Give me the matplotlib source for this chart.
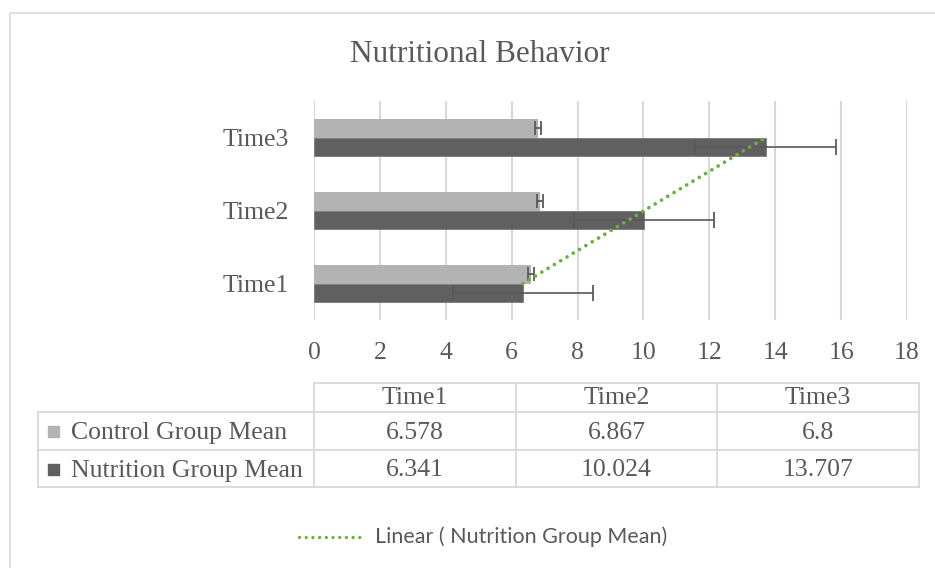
import numpy as np
import matplotlib
matplotlib.use("Agg")
import matplotlib.pyplot as plt
from matplotlib.lines import Line2D
from matplotlib.patches import Rectangle

# ---- data ----
categories = ["Time1", "Time2", "Time3"]
control_mean = [6.578, 6.867, 6.8]
nutrition_mean = [6.341, 10.024, 13.707]
control_err = [0.09, 0.09, 0.09]
nutrition_err = [2.13, 2.13, 2.13]
series_names = ["Control Group Mean", "Nutrition Group Mean"]
x_ticks = [0, 2, 4, 6, 8, 10, 12, 14, 16, 18]
title = "Nutritional Behavior"
trend_label = "Linear ( Nutrition Group Mean)"

# ---- style ----
W, H = 935, 568
TXT = "#595959"
GRID = "#D9D9D9"
C_CTRL = "#B3B3B3"
C_NUT = "#606060"
C_ERR = "#595959"
C_TREND = "#70AD47"
SERIF = ["Liberation Serif", "DejaVu Serif"]
FS = 18.5

fig = plt.figure(figsize=(W / 100, H / 100), dpi=100)
fig.patch.set_facecolor("white")

# plot area in pixels
px_l, px_r, px_t, px_b = 314, 907, 101, 320
ax = fig.add_axes([px_l / W, 1 - px_b / H, (px_r - px_l) / W, (px_b - px_t) / H])

y = np.arange(1, len(categories) + 1)
bh = 0.253
ax.barh(y + bh / 2, control_mean, height=bh, color=C_CTRL, zorder=2)
ax.barh(y - bh / 2, nutrition_mean, height=bh, color=C_NUT, edgecolor="#7a7a7a",
        linewidth=0.6, zorder=2)
ax.errorbar(control_mean, y + bh / 2, xerr=control_err, fmt="none", ecolor=C_ERR,
            elinewidth=1.3, capsize=5, capthick=1.3, zorder=3)
ax.errorbar(nutrition_mean, y - bh / 2, xerr=nutrition_err, fmt="none", ecolor=C_ERR,
            elinewidth=1.2, capsize=5.5, capthick=1.3, zorder=3)

# linear trendline through category centres
coef = np.polyfit(y, nutrition_mean, 1)
yy = np.array([y[0], y[-1]], dtype=float)
ax.plot(np.polyval(coef, yy), yy, color=C_TREND, lw=2.7,
        linestyle=(0, (0.01, 1.95)), dash_capstyle="round", zorder=4)

ax.set_xlim(x_ticks[0], x_ticks[-1])
ax.set_ylim(0.5, len(categories) + 0.5)
ax.set_xticks(x_ticks)
ax.set_xticklabels([str(t) for t in x_ticks], fontfamily=SERIF, fontsize=FS, color=TXT)
ax.set_yticks(y)
ax.set_yticklabels(categories, fontfamily=SERIF, fontsize=FS, color=TXT)
ax.tick_params(axis="x", length=0, pad=16)
ax.tick_params(axis="y", length=0, pad=18)
ax.grid(axis="x", color=GRID, linewidth=1.5, zorder=0)
ax.set_axisbelow(True)
for s in ax.spines.values():
    s.set_visible(False)

# overlay in pixel coordinates for frame, title, table and legend
ov = fig.add_axes([0, 0, 1, 1], zorder=-1)
ov.set_xlim(0, W)
ov.set_ylim(H, 0)
ov.axis("off")
ov.add_patch(Rectangle((10, 13), W + 20, H + 20, fill=False, edgecolor=GRID, lw=1.2))

fig.text(480 / W, 1 - 55 / H, title, ha="center", va="center",
         fontfamily=SERIF, fontsize=22.5, color=TXT)

# data table
col_x = [38, 314, 516, 717, 919]
row_y = [383, 412, 450, 487]
lk = dict(color=GRID, lw=1.3)
ov.plot([col_x[1], col_x[-1]], [row_y[0], row_y[0]], **lk)
for ry in row_y[1:]:
    ov.plot([col_x[0], col_x[-1]], [ry, ry], **lk)
ov.plot([col_x[0], col_x[0]], [row_y[1], row_y[-1]], **lk)
for cx in col_x[1:]:
    ov.plot([cx, cx], [row_y[0], row_y[-1]], **lk)

tk = dict(fontfamily=SERIF, fontsize=FS, color=TXT, va="center")
for j, cat in enumerate(categories):
    cx = (col_x[j + 1] + col_x[j + 2]) / 2
    ov.text(cx, (row_y[0] + row_y[1]) / 2 + 1, cat, ha="center", **tk)
rows = [control_mean, nutrition_mean]
colors = [C_CTRL, C_NUT]
for i, (name, vals, c) in enumerate(zip(series_names, rows, colors)):
    cy = (row_y[i + 1] + row_y[i + 2]) / 2
    ov.add_patch(Rectangle((48, cy - 5), 11, 11, color=c))
    ov.text(71, cy + 2, name, ha="left", **tk)
    for j, v in enumerate(vals):
        cx = (col_x[j + 1] + col_x[j + 2]) / 2
        ov.text(cx, cy + 2, f"{v:g}", ha="center", **tk)

# legend for trendline
ov.add_line(Line2D([299, 366], [537, 537], color=C_TREND, lw=2.4,
                   linestyle=(0, (0.01, 2.0)), dash_capstyle="round"))
ov.text(375, 537, trend_label, ha="left", va="center",
        fontfamily=["Lato", "DejaVu Sans"], fontsize=15.5, color=TXT)

fig.savefig("out.png", dpi=100, facecolor="white")
